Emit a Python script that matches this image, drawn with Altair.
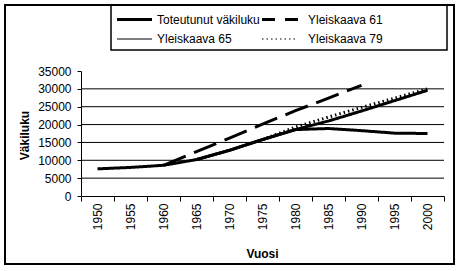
import altair as alt
import pandas as pd

years = [1950, 1955, 1960, 1965, 1970, 1975, 1980, 1985, 1990, 1995, 2000]
toteutunut = [7600, 8000, 8600, 10200, 12800, 15800, 18600, 18900, 18300, 17600, 17500]
yk61 = [None, None, 8600, 12400, 16200, 20100, 23900, 27400, 31000, None, None]
yk65 = [None, None, None, 10200, 12800, 15800, 18600, 21000, 23800, 26700, 29600]
yk79 = [None, None, None, None, None, 15800, 19300, 22100, 24800, 27400, 30000]
series_names = ["Toteutunut väkiluku", "Yleiskaava 61", "Yleiskaava 65", "Yleiskaava 79"]
gridvals = [5000, 10000, 15000, 20000, 25000, 30000]
yticks = [0, 5000, 10000, 15000, 20000, 25000, 30000, 35000]

rows = []
for name, vals in zip(series_names, [toteutunut, yk61, yk65, yk79]):
    for yr, v in zip(years, vals):
        if v is not None:
            rows.append({"year": yr, "value": v, "series": name})
df = pd.DataFrame(rows)

FONT = "Liberation Sans"
yscale = alt.Scale(domain=[0, 35000], nice=False, zero=True)
xscale = alt.Scale(type="band", paddingInner=0, paddingOuter=0)

yaxis = alt.Axis(title="Väkiluku", values=yticks, grid=False, format="d",
                 labelFont=FONT, labelFontSize=12, labelColor="black",
                 labelPadding=6, tickSize=4, tickColor="black", domainColor="black",
                 titleFont=FONT, titleFontSize=12, titleFontWeight="bold",
                 titleColor="black", titleAngle=270, titleX=-50, titleY=64,
                 titleBaseline="bottom", titleAlign="center")

grid = alt.Chart(pd.DataFrame({"value": gridvals})).mark_rule(
    color="black", strokeWidth=1
).encode(y=alt.Y("value:Q", scale=yscale, axis=yaxis))

lines = alt.Chart(df).mark_line(color="black").encode(
    x=alt.X("year:O", scale=xscale, bandPosition=0.5,
            axis=alt.Axis(title="Vuosi", labelAngle=270, labelFont=FONT, labelFontSize=12,
                          labelColor="black", labelPadding=2, tickBand="extent",
                          tickSize=5, tickColor="black", domainColor="black",
                          titleFont=FONT, titleFontSize=12, titleFontWeight="bold",
                          titleColor="black", titleX=181, titleY=57, titleBaseline="middle")),
    y=alt.Y("value:Q", scale=yscale, axis=yaxis),
    detail="series:N",
    strokeDash=alt.StrokeDash("series:N", scale=alt.Scale(domain=series_names,
                              range=[[1, 0], [24, 9], [1, 0], [1.5, 3]]), legend=None),
    strokeWidth=alt.StrokeWidth("series:N", scale=alt.Scale(domain=series_names,
                                range=[3, 3, 1, 1]), legend=None),
    order=alt.Order("year:O"),
)

one = alt.Data(values=[{}])

frame = alt.Chart(one).mark_rect(fill="white", fillOpacity=0, stroke="black", strokeWidth=2).encode(
    x=alt.value(-76), x2=alt.value(373), y=alt.value(-66), y2=alt.value(193))
legbox = alt.Chart(one).mark_rect(fill="white", fillOpacity=0, stroke="black", strokeWidth=1.5).encode(
    x=alt.value(30), x2=alt.value(366), y=alt.value(-66), y2=alt.value(-21))

legend_layers = []
leg_specs = [
    (series_names[0], 36, 71, 76, -51.5, [1, 0], 3),
    (series_names[1], 181, 217, 227, -51.5, [13, 10], 3),
    (series_names[2], 36, 71, 76, -32, [1, 0], 1),
    (series_names[3], 181, 217, 227, -32, [1.5, 3], 1),
]
for name, x1, x2, tx, yy, dash, sw in leg_specs:
    legend_layers.append(alt.Chart(one).mark_rule(color="black", strokeWidth=sw, strokeDash=dash).encode(
        x=alt.value(x1), x2=alt.value(x2), y=alt.value(yy)))
    legend_layers.append(alt.Chart(one).mark_text(font=FONT, fontSize=12, color="black",
                                                  align="left", baseline="middle").encode(
        x=alt.value(tx), y=alt.value(yy), text=alt.value(name)))

chart = alt.layer(grid, lines, frame, legbox, *legend_layers).properties(
    width=363, height=125,
    autosize=alt.AutoSizeParams(type="none"),
    padding={"left": 81, "top": 71, "right": 18, "bottom": 75},
    background="white",
).configure_view(strokeWidth=0)

chart.save("out.html", embed_options={"renderer": "svg", "actions": False})
